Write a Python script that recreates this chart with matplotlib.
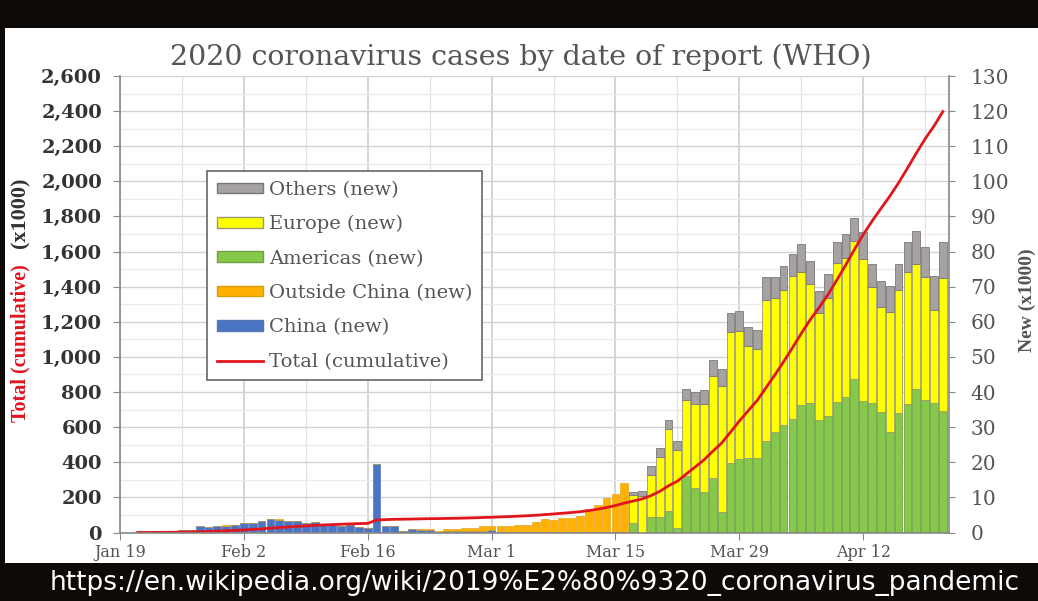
import numpy as np
import pandas as pd
import matplotlib
matplotlib.use('Agg')
import matplotlib.pyplot as plt
from matplotlib.patches import Patch, Rectangle
from matplotlib.lines import Line2D
from matplotlib.ticker import MultipleLocator, FuncFormatter

plt.rcParams['font.family'] = 'DejaVu Serif'

# report days (WHO situation reports)
days_early = pd.date_range('2020-01-21', '2020-03-16')   # china / outside china split
days_late = pd.date_range('2020-03-17', '2020-04-21')    # americas / europe / others split
days_all = pd.date_range('2020-01-21', '2020-04-21')

# new cases (x1000)
china_new = [0.28, 0.03, 0.26, 0.26, 0.46, 0.68, 0.77, 1.77, 1.46, 1.74, 1.98,
             2.10, 2.59, 2.83, 3.23, 3.89, 3.70, 3.18, 3.40, 2.66, 2.98, 2.54,
             2.06, 1.82, 2.05, 1.51, 1.26, 19.46, 1.89, 1.75, 0.39, 0.89, 0.82,
             0.65, 0.22, 0.51, 0.41, 0.43, 0.33, 0.43,
             0.57, 0.21, 0.13, 0.12, 0.14, 0.15, 0.10, 0.05, 0.04, 0.02, 0.03,
             0.03, 0.01, 0.02, 0.03, 0.03]
outside_new = [0.00, 0.00, 0.01, 0.01, 0.01, 0.01, 0.01, 0.03, 0.01, 0.01, 0.03,
               0.03, 0.01, 0.00, 0.01, 0.03, 0.02, 0.03, 0.00, 0.01, 0.02, 0.01,
               0.01, 0.01, 0.01, 0.02, 0.02, 0.11, 0.01, 0.12, 0.15, 0.13, 0.21,
               0.37, 0.30, 0.40, 0.46, 0.76, 1.03, 1.32,
               1.16, 1.60, 1.79, 2.10, 2.09, 2.72, 3.64, 3.61, 3.95, 4.10, 4.59,
               6.70, 7.70, 9.76, 10.95, 13.96]
americas_new = [2.6, 0.0, 4.4, 4.5, 6.0, 1.2, 16.0, 12.6, 11.6, 15.4, 5.7, 19.7,
                20.9, 21.3, 21.1,
                26.1, 28.7, 30.6, 32.2, 36.3, 37.0, 31.9, 33.2, 37.3, 38.5, 43.7,
                37.5, 36.8, 34.4, 28.7, 34.0, 36.6, 40.8, 37.8, 37.0, 34.7]
europe_new = [8.1, 10.5, 12.1, 17.1, 23.5, 22.4, 21.6, 24.0, 25.0, 29.2, 36.1, 37.3,
              36.4, 31.9, 31.1,
              40.0, 38.1, 38.5, 40.9, 38.0, 33.7, 30.6, 33.6, 39.4, 39.8, 39.2,
              40.4, 33.1, 29.7, 34.0, 35.1, 37.7, 35.7, 34.9, 26.4, 37.9]
others_new = [0.9, 1.3, 2.3, 2.6, 2.5, 2.5, 3.2, 3.3, 4.1, 4.6, 4.7, 5.5,
              5.9, 5.2, 5.5,
              6.6, 6.0, 6.7, 6.2, 7.9, 6.5, 6.2, 6.9, 6.0, 6.8, 6.7,
              7.6, 6.5, 7.6, 7.4, 7.4, 8.3, 9.3, 8.5, 9.7, 10.0]

# cumulative total (x1000)
total_cum = [0.28, 0.31, 0.58, 0.85, 1.32, 2.01, 2.80, 4.59, 6.07, 7.82, 9.83,
             11.95, 14.56, 17.39, 20.63, 24.55, 28.28, 31.48, 34.89, 37.56, 40.55,
             43.10, 45.17, 47.00, 49.05, 50.58, 51.86, 71.43, 73.33, 75.20, 75.75,
             76.77, 77.79, 78.81, 79.33, 80.24, 81.11, 82.29, 83.65, 85.40,
             87.14, 88.95, 90.87, 93.09, 95.32, 98.19, 101.93, 105.59, 109.58,
             113.70, 118.32, 125.05, 132.76, 142.54, 153.52, 167.51, 179.11,
             191.13, 209.84, 234.07, 266.07, 292.14, 332.93, 372.76, 413.47,
             462.68, 509.16, 571.68, 634.84, 693.22, 750.89,
             823.63, 896.45, 972.30, 1051.64, 1133.76, 1210.96, 1279.72, 1353.36,
             1436.20, 1521.25, 1610.91, 1696.59, 1773.08, 1844.86, 1914.92,
             1991.56, 2074.53, 2160.21, 2241.78, 2314.62, 2397.22]

xticks = pd.date_range('2020-01-19', periods=7, freq='14D')
xticks_minor = pd.date_range('2020-01-26', periods=7, freq='14D')
xtick_labels = ['Jan 19', 'Feb 2', 'Feb 16', 'Mar 1', 'Mar 15', 'Mar 29', 'Apr 12']

c_china = '#4a74c6'
c_out = '#ffb000'
c_am = '#86c84a'
c_eu = '#ffff00'
c_ot = '#a6a2a2'
c_tot = '#e0161c'

fig = plt.figure(figsize=(10.38, 6.01), dpi=100, facecolor='#0e0a08')
fig.patches.append(Rectangle((5 / 1038, 38 / 601), 1033 / 1038, 535 / 601,
                             transform=fig.transFigure, facecolor='white',
                             edgecolor='none', zorder=-5))

rect = [120 / 1038, (601 - 532.5) / 601, 829 / 1038, 456.5 / 601]
ax = fig.add_axes(rect)
ax2 = ax.twinx()
ax2.set_zorder(1)
ax.set_zorder(2)
ax.patch.set_visible(False)

# bars on the right (new) axis
w = 0.88
ax2.bar(days_early, china_new, width=w, color=c_china, edgecolor='#5a78b0', linewidth=0.5)
ax2.bar(days_early, outside_new, width=w, bottom=china_new, color=c_out,
        edgecolor='#d99a10', linewidth=0.4)
ax2.bar(days_late, americas_new, width=w, color=c_am, edgecolor='#6f9f48', linewidth=0.6)
ax2.bar(days_late, europe_new, width=w, bottom=americas_new, color=c_eu,
        edgecolor='#9a9a70', linewidth=0.6)
ax2.bar(days_late, others_new, width=w, bottom=np.add(americas_new, europe_new),
        color=c_ot, edgecolor='#7c7878', linewidth=0.6)

# cumulative line on left axis
ax.plot(days_all, total_cum, color=c_tot, lw=2)

x0 = pd.Timestamp('2020-01-19')
ax.set_xlim(x0, x0 + pd.Timedelta(days=93.7))
ax.set_ylim(0, 2600)
ax2.set_ylim(0, 130)

ax.yaxis.set_major_locator(MultipleLocator(200))
ax.yaxis.set_major_formatter(FuncFormatter(lambda v, p: f'{v:,.0f}'))
ax2.yaxis.set_major_locator(MultipleLocator(10))
ax2.yaxis.set_minor_locator(MultipleLocator(5))

ax.set_xticks(xticks)
ax.set_xticklabels(xtick_labels)
ax.set_xticks(xticks_minor, minor=True)

# grid behind bars
ax2.xaxis.set_visible(True)
ax2.set_axisbelow(True)
ax2.grid(which='major', axis='y', color='#d3d3d3', lw=1)
ax2.grid(which='minor', axis='y', color='#ebebeb', lw=0.9)
ax2.grid(which='major', axis='x', color='#c9c9c9', lw=1.1)
ax2.grid(which='minor', axis='x', color='#e2e2e2', lw=0.9)
ax2.tick_params(axis='x', which='both', length=0, labelbottom=False)
ax2.tick_params(axis='y', which='minor', length=0)

ax.tick_params(axis='y', length=5, pad=8, color='#888888', labelsize=14,
               labelcolor='#333333')
for t in ax.get_yticklabels():
    t.set_fontweight('bold')
ax2.tick_params(axis='y', which='major', length=4.5, pad=11, color='#888888',
                labelsize=14.5, labelcolor='#555555')
ax.tick_params(axis='x', which='major', length=5, color='#888888', labelsize=11.5,
               labelcolor='#555555')
ax.tick_params(axis='x', which='minor', length=0)

for s in ['top', 'right']:
    ax.spines[s].set_visible(False)
for s in ['top', 'left', 'bottom']:
    ax2.spines[s].set_visible(False)
ax.spines['left'].set_color('#888888')
ax.spines['bottom'].set_color('#888888')
ax2.spines['right'].set_color('#888888')
ax.spines['left'].set_linewidth(1.2)
ax.spines['bottom'].set_linewidth(1.2)
ax2.spines['right'].set_linewidth(1.2)

handles = [
    Patch(facecolor=c_ot, edgecolor='#7c7878', label='Others (new)'),
    Patch(facecolor=c_eu, edgecolor='#9a9a70', label='Europe (new)'),
    Patch(facecolor=c_am, edgecolor='#6f9f48', label='Americas (new)'),
    Patch(facecolor=c_out, edgecolor='#d99a10', label='Outside China (new)'),
    Patch(facecolor=c_china, edgecolor='#5a78b0', label='China (new)'),
    Line2D([], [], color=c_tot, lw=2, label='Total (cumulative)'),
]
leg = ax.legend(handles=handles, loc='upper left', bbox_to_anchor=(87 / 829, 0.792),
                borderaxespad=0, fancybox=False, framealpha=1, edgecolor='#666666',
                fontsize=14, handlelength=2.4, handleheight=0.45, handletextpad=0.3,
                labelspacing=0.84, borderpad=0.5)
leg.get_frame().set_linewidth(1.2)
for t in leg.get_texts():
    t.set_color('#555555')

fig.text(0.502, 1 - 57 / 601, '2020 coronavirus cases by date of report (WHO)',
         ha='center', va='center', fontsize=20.5, color='#555555')
fig.text(20 / 1038, 1 - 343 / 601, 'Total (cumulative)', rotation=90, ha='center',
         va='center', fontsize=14.5, fontweight='bold', family='Liberation Serif',
         color='#e0141e')
fig.text(20 / 1038, 1 - 213 / 601, '(x1000)', rotation=90, ha='center', va='center',
         fontsize=16, fontweight='bold', family='Liberation Serif', color='#333333')
fig.text(1027 / 1038, 1 - 300 / 601, 'New (x1000)', rotation=90, ha='center',
         va='center', fontsize=14, fontweight='bold', family='Liberation Serif',
         color='#555555')
fig.text(535 / 1038, 1 - 583 / 601,
         'https://en.wikipedia.org/wiki/2019%E2%80%9320_coronavirus_pandemic',
         ha='center', va='center', fontsize=19, color='white', family='DejaVu Sans')

fig.savefig('out.png', dpi=100, facecolor=fig.get_facecolor())
